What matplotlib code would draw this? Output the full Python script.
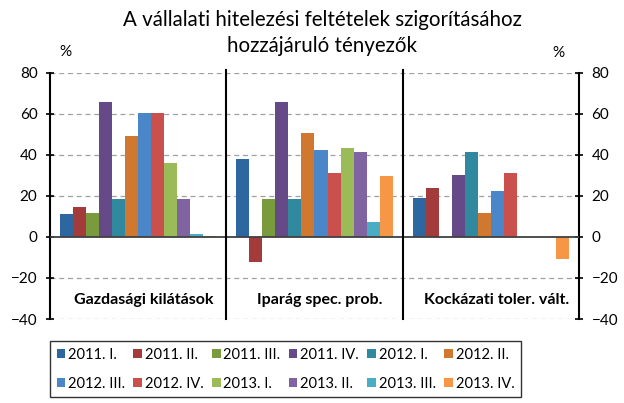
import matplotlib
matplotlib.use("Agg")
import matplotlib.pyplot as plt
import numpy as np

categories = ["Gazdasági kilátások", "Iparág spec. prob.", "Kockázati toler. vált."]
series = ["2011. I.", "2011. II.", "2011. III.", "2011. IV.", "2012. I.", "2012. II.",
          "2012. III.", "2012. IV.", "2013. I.", "2013. II.", "2013. III.", "2013. IV."]
# values[series][category]
values = [
    [11.3, 38.0, 18.9],
    [14.4, -12.0, 24.0],
    [11.6, 18.6, 0.0],
    [65.6, 65.6, 30.4],
    [18.6, 18.6, 41.2],
    [49.3, 50.5, 11.5],
    [60.3, 42.4, 22.3],
    [60.3, 31.0, 31.0],
    [36.0, 43.4, 0.0],
    [18.6, 41.2, 0.0],
    [1.5, 7.4, 0.0],
    [0.5, 29.6, -10.9],
]
colors = ["#2E67A0", "#A33B3B", "#7A9A3E", "#654A87", "#31899F", "#D0782F",
          "#4A86C8", "#C9504D", "#9BBB59", "#8064A2", "#4BACC6", "#F79646"]
yticks = [-40, -20, 0, 20, 40, 60, 80]

plt.rcParams['font.family'] = ['Lato', 'DejaVu Sans']

fig = plt.figure(figsize=(6.24, 4.03), dpi=100)
L, R = 50/624, 579/624
T, B = 1 - 72.7/403, 1 - 319/403
ax = fig.add_axes([L, B, R - L, T - B])

n = len(series)
w = 0.074
x = np.arange(len(categories))
handles = []
for i, (s, v, c) in enumerate(zip(series, values, colors)):
    h = ax.bar(x + (i - (n - 1) / 2) * w, v, width=w, color=c, label=s, zorder=3,
               edgecolor='none')
    handles.append(h)

ax.set_xlim(-0.5, 2.5)
ax.set_ylim(-40, 80)
ax.set_yticks(yticks)
for yv in yticks:
    if yv == 0:
        ax.axhline(0, color='#404040', lw=1.3, zorder=4)
    else:
        ax.axhline(yv, color='#A0A0A0', lw=0.9, ls=(0, (4, 3)), zorder=1)
for xs in [0.5, 1.5]:
    ax.plot([xs, xs], [-40, 81.5], color='black', lw=1.5, zorder=5, clip_on=False)

for sp in ['top', 'bottom']:
    ax.spines[sp].set_visible(False)
for sp in ['left', 'right']:
    ax.spines[sp].set_color('black')
    ax.spines[sp].set_linewidth(1.5)
ax.set_xticks([])
ax.tick_params(axis='y', direction='inout', length=6, width=1.2, labelsize=11,
               left=True, right=True, labelleft=True, labelright=True, pad=6)

for xi, cat in zip(x, categories):
    ax.text(xi + 0.03, -30.5, cat, ha='center', va='center', fontsize=11.5,
            fontweight='bold', color='black', zorder=6)

fig.text(65/624, 1 - 52/403, "%", ha='center', va='center', fontsize=11)
fig.text(558/624, 1 - 53/403, "%", ha='center', va='center', fontsize=11)
fig.text(322/624, 1 - 20/403, "A vállalati hitelezési feltételek szigorításához",
         ha='center', va='center', fontsize=14.8)
fig.text(322/624, 1 - 46/403, "hozzájáruló tényezők",
         ha='center', va='center', fontsize=14.8)

ncol = 6
nrow = 2
order = [r * ncol + c for c in range(ncol) for r in range(nrow)]
leg = fig.legend([handles[k] for k in order], [series[k] for k in order],
                 loc='upper left', bbox_to_anchor=(50/624, 1 - 341/403), ncol=ncol,
                 fontsize=10.5, frameon=True, fancybox=False, edgecolor='black',
                 handlelength=0.6, handleheight=0.6, handletextpad=0.2,
                 columnspacing=0.55, labelspacing=1.05, borderpad=0.45,
                 borderaxespad=0)
leg.get_frame().set_linewidth(1.0)

fig.savefig("out.png", dpi=100)
